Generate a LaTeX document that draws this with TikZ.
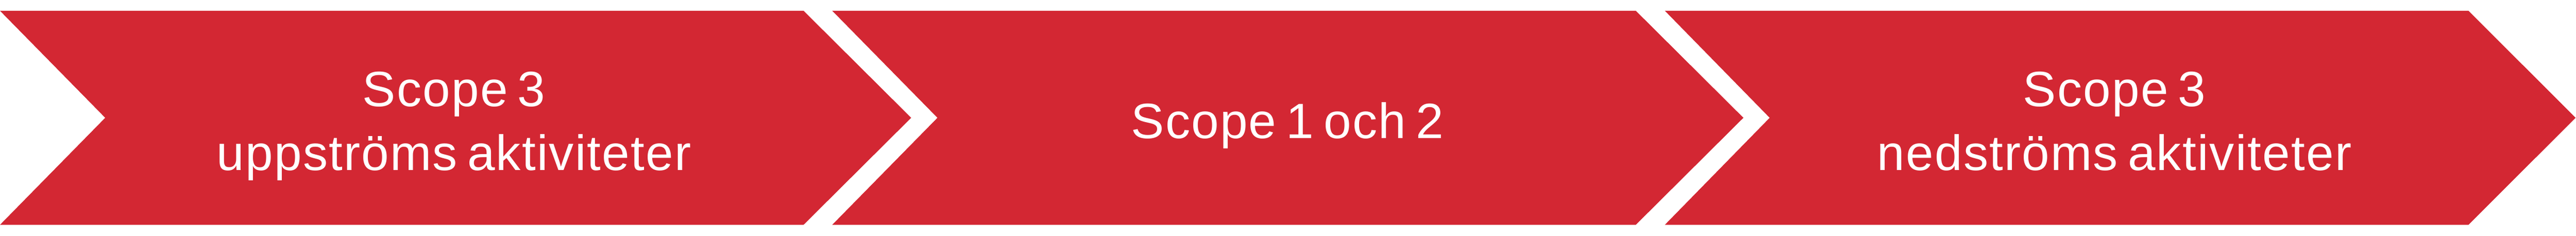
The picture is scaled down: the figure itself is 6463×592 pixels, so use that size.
\documentclass[tikz,border=0pt]{standalone}
\usepackage{fontspec}
\setmainfont{Liberation Sans}[LetterSpace=2.3]
\definecolor{chevred}{HTML}{D32733}
\newcommand{\lblfont}{\fontsize{35.4pt}{45.5pt}\selectfont\spaceskip=0.2em plus 0.1em minus 0.05em\relax}
\tikzset{
  chev/.style={fill=chevred, draw=none},
  lbl/.style={text=white, align=center, inner sep=0pt, anchor=base,
    font=\lblfont}
}
\begin{document}
\begin{tikzpicture}[x=0.01cm,y=-0.01cm]
\useasboundingbox (0,0) rectangle (6463,592);
\fill[chev] (0,27) -- (2016,27) -- (2286,295.5) -- (2016,564) -- (0,564) -- (264,295.5) -- cycle;
\fill[chev] (2088,27) -- (4104,27) -- (4374,295.5) -- (4104,564) -- (2088,564) -- (2352,295.5) -- cycle;
\fill[chev] (4177,27) -- (6193,27) -- (6462,295.5) -- (6193,564) -- (4177,564) -- (4440,295.5) -- cycle;
\node[lbl] (t1) at (1139,427) {Scope 3\\uppströms aktiviteter};
\node[lbl] (t2) at (3230,347) {Scope 1 och 2};
\node[lbl] (t3) at (5305,427) {Scope 3\\nedströms aktiviteter};
\end{tikzpicture}
\end{document}
